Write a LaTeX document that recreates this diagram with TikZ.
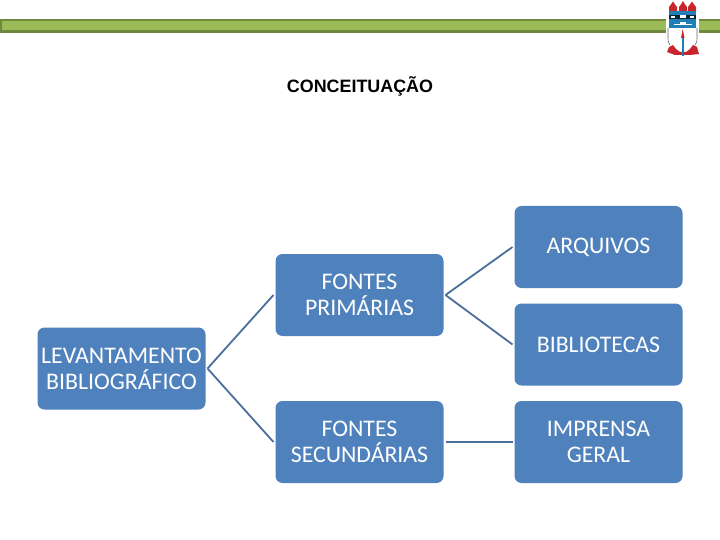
\documentclass[tikz,border=0pt]{standalone}
\usepackage{fontspec}
\setmainfont{Carlito}
\newfontfamily\arialfont{Liberation Sans}
\definecolor{boxblue}{HTML}{4F81BD}
\definecolor{linkblue}{HTML}{4A6F9C}
\definecolor{bargreen}{HTML}{9BBB59}
\definecolor{bardark}{HTML}{71893F}
\definecolor{logored}{HTML}{C8262C}
\definecolor{logoblue}{HTML}{1F7FB5}
\tikzset{
  boxnode/.style={rectangle,rounded corners=7pt,fill=boxblue,text=white,align=center,
    inner sep=0pt,font=\fontsize{23.8}{26}\selectfont,outer sep=2pt},
  wide/.style={boxnode,minimum width=168pt,minimum height=82pt},
  linkline/.style={draw=linkblue,line width=1.8pt},
}
\begin{document}
\begin{tikzpicture}[x=1pt,y=-1pt]
\useasboundingbox (0,0) rectangle (720,540);
\fill[white] (0,0) rectangle (720,540);
% header bar
\fill[bardark] (0,19) rectangle (720,33);
\fill[bargreen] (2,21.5) rectangle (720,30);
% logo
\fill[white] (666,0) rectangle (699,60);
\fill[logored] (669,11) -- (669,7) .. controls (670,5) and (672,4) .. (673,1.5) .. controls (674,4) and (676,5) .. (677,7) -- (677,11) -- cycle;
\fill[logored] (679,11) -- (679,7) .. controls (680,5) and (682,4) .. (683,1) .. controls (684,4) and (686,5) .. (687,7) -- (687,11) -- cycle;
\fill[logored] (688,11) -- (688,7) .. controls (689,5) and (691,4) .. (692,1.5) .. controls (693,4) and (695,5) .. (696,7) -- (696,11) -- cycle;
\fill[logoblue] (669,11) rectangle (696,28);
\fill[black!70!logoblue] (669,15) rectangle (696,19);
\fill[white] (671,16) rectangle (675,18.5);
\fill[white] (680,15.5) rectangle (686,18.5);
\fill[white] (690,16) rectangle (694,18.5);
\fill[white] (674,24) rectangle (692,25);
\fill[white] (680,22) rectangle (686,24);
\draw[black!60,line width=.6pt] (668,28) -- (668,38) .. controls (668,42) and (669,44) .. (670,45);
\draw[black!60,line width=.6pt] (697,28) -- (697,38) .. controls (697,42) and (696,44) .. (695,45);
\fill[logored] (681,38) -- (682.7,29) -- (684.5,38) -- cycle;
\fill[logoblue] (682,38) rectangle (683.5,56);
\fill[logored] (667,52) -- (669,47) -- (673,45) -- (676,49) -- (680,52) -- (686,52) -- (690,49) -- (693,45) -- (697,47) -- (699,54) -- (690,55) -- (675,55) -- cycle;
\fill[logoblue] (682,51) rectangle (683.5,56);
% title
\node[font=\arialfont\bfseries\fontsize{17.9}{20}\selectfont,text=black,inner sep=0pt,anchor=base] (title) at (360,93) {CONCEITUAÇÃO};
% boxes
\node[wide] (lev) at (121.5,368.5) {LEVANTAMENTO\\BIBLIOGRÁFICO};
\node[wide] (prim) at (359.5,295) {FONTES\\PRIMÁRIAS};
\node[wide] (sec) at (359.5,442) {FONTES\\SECUNDÁRIAS};
\node[wide] (arq) at (598.5,247) {ARQUIVOS};
\node[wide] (bib) at (598.5,344.5) {BIBLIOTECAS};
\node[wide] (imp) at (598.5,442) {IMPRENSA\\GERAL};
% connectors
\draw[linkline] (lev.east) -- (prim.west);
\draw[linkline] (lev.east) -- (sec.west);
\draw[linkline] (prim.east) -- (arq.west);
\draw[linkline] (prim.east) -- (bib.west);
\draw[linkline] (sec.east) -- (imp.west);
\end{tikzpicture}
\end{document}
